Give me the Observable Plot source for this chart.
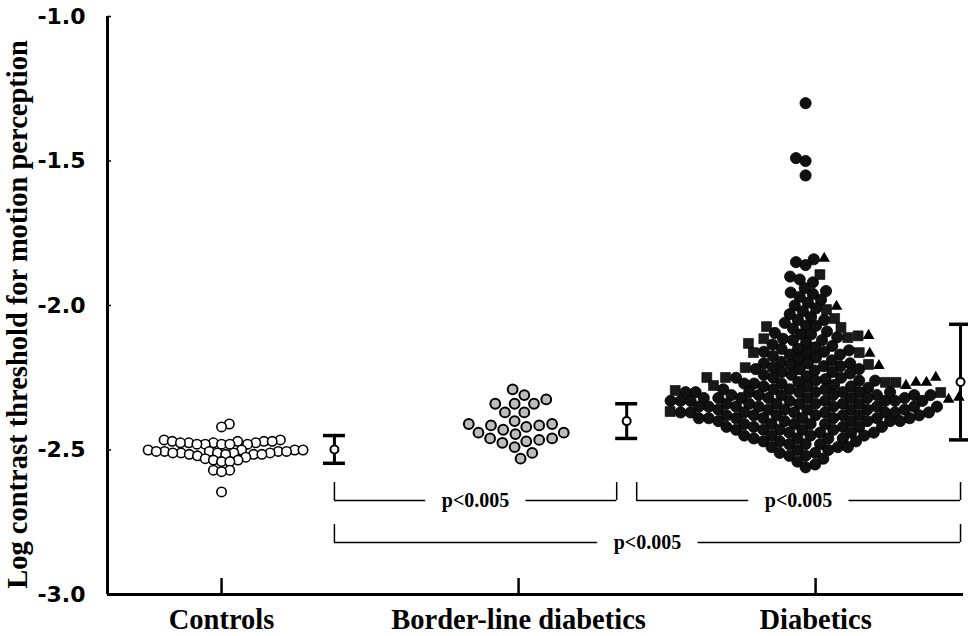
<!DOCTYPE html>
<html><head><meta charset="utf-8">
<script src="https://cdn.jsdelivr.net/npm/d3@7"></script>
<script src="https://cdn.jsdelivr.net/npm/@observablehq/plot@0.6"></script>
<style>
html,body{margin:0;padding:0;background:#fff;}
#chart svg{display:block;}
</style></head><body><div id="chart"></div>
<script>
// ---------------- data ----------------
const categories = ["Controls", "Border-line diabetics", "Diabetics"];
const yTicks = [-3.0, -2.5, -2.0, -1.5, -1.0];
const yTitle = "Log contrast threshold for motion perception";

const controls = [
  -2.41, -2.42,
  -2.465, -2.465, -2.47, -2.47, -2.47, -2.47, -2.475, -2.475, -2.475, -2.475,
  -2.48, -2.48, -2.48, -2.48, -2.48,
  -2.50, -2.50, -2.50, -2.50, -2.505, -2.505, -2.505, -2.505, -2.505,
  -2.51, -2.51, -2.51, -2.51, -2.51, -2.515, -2.515, -2.515, -2.515,
  -2.52, -2.525, -2.53, -2.535, -2.535, -2.54, -2.54,
  -2.57, -2.57, -2.575,
  -2.645
];

const borderline = [
  -2.29, -2.31, -2.325,
  -2.34, -2.34, -2.34,
  -2.37, -2.37,
  -2.40, -2.41, -2.41,
  -2.415, -2.415, -2.42,
  -2.43, -2.44, -2.44, -2.445,
  -2.46, -2.46, -2.465, -2.47,
  -2.475, -2.49, -2.51, -2.53
];

const diabeticsCircles = [
  -1.30, -1.49, -1.50, -1.55,
  -1.84, -1.85, -1.86,
  -1.90, -1.91, -1.92,
  -1.94, -1.95, -1.955, -1.96, -1.97, -1.98,
  -1.99, -2.00, -2.01, -2.02, -2.03,
  -2.04, -2.05, -2.05, -2.06, -2.07, -2.07, -2.08, -2.09,
  -2.095, -2.10, -2.10, -2.11, -2.115, -2.12, -2.12, -2.13, -2.135, -2.14,
  -2.145, -2.15, -2.15, -2.155, -2.16, -2.16, -2.165, -2.17, -2.17, -2.175, -2.18, -2.185, -2.19,
  -2.195, -2.20, -2.20, -2.20, -2.205, -2.21, -2.21, -2.215, -2.22, -2.22, -2.22, -2.225, -2.23, -2.23, -2.235, -2.24, -2.24,
  -2.245, -2.25, -2.25, -2.25, -2.255, -2.26, -2.26, -2.26, -2.265, -2.27, -2.27, -2.27, -2.275,
  -2.28, -2.28, -2.28, -2.285, -2.29, -2.29, -2.29, -2.29,
  -2.30, -2.30, -2.30, -2.30, -2.30, -2.30, -2.30, -2.30,
  -2.31, -2.31, -2.31, -2.31, -2.31, -2.31, -2.31,
  -2.32, -2.32, -2.32, -2.32, -2.32, -2.32, -2.32, -2.32,
  -2.33, -2.33, -2.33, -2.33, -2.33, -2.33, -2.33, -2.33,
  -2.34, -2.34, -2.34, -2.34, -2.34, -2.34, -2.34,
  -2.35, -2.35, -2.35, -2.35, -2.35, -2.35, -2.35, -2.35,
  -2.36, -2.36, -2.36, -2.36, -2.36, -2.36, -2.36,
  -2.37, -2.37, -2.37, -2.37, -2.37, -2.37, -2.37, -2.37,
  -2.38, -2.38, -2.38, -2.38, -2.38, -2.38, -2.38,
  -2.39, -2.39, -2.39, -2.39, -2.39, -2.39, -2.39, -2.39,
  -2.40, -2.40, -2.40, -2.40, -2.40, -2.40,
  -2.41, -2.41, -2.41, -2.41, -2.41,
  -2.42, -2.42, -2.42, -2.42, -2.42,
  -2.43, -2.43, -2.43, -2.43, -2.43,
  -2.44, -2.44, -2.44, -2.44,
  -2.45, -2.45, -2.45, -2.45, -2.46, -2.46, -2.46, -2.46,
  -2.47, -2.47, -2.47, -2.48, -2.48, -2.48, -2.49, -2.49, -2.49,
  -2.50, -2.50, -2.51, -2.51, -2.52, -2.52, -2.53, -2.54, -2.55, -2.56
];

const diabeticsSquares = [
  -1.893, -2.014, -2.045, -2.073, -2.076, -2.105, -2.111, -2.115, -2.131,
  -2.163, -2.163, -2.204, -2.215, -2.249, -2.249, -2.266, -2.266, -2.277,
  -2.294, -2.301, -2.367
];

const diabeticsTriangles = [
  -1.837, -2.003, -2.104, -2.166, -2.208, -2.249, -2.266, -2.266, -2.277, -2.318, -2.325
];

const groupMeans = [-2.498, -2.40, -2.265];
const groupSDs = [0.048, 0.06, 0.20];

const comparisonFrom = [0, 1, 0];
const comparisonTo = [1, 2, 2];
const comparisonLabels = ["p<0.005", "p<0.005", "p<0.005"];

// ---------------- layout ----------------
const W = 968, H = 636;
const M = {top: 16, right: 5, bottom: 42, left: 107};
const xDomain = [-0.384, 2.498];
const yDomain = [-3, -1];
const kx = (W - M.left - M.right) / (xDomain[1] - xDomain[0]);
const ky = (H - M.top - M.bottom) / (yDomain[1] - yDomain[0]);
const summaryOffset = [0.38, 0.364, 0.488];
const swarmShiftPx = [0, 2, -10];
const bracketLevel = [-2.675, -2.675, -2.82];
const bracketGap = 10 / kx;

// greedy beeswarm (pixel space), returns x offsets in px; side: 0 both, 1 right only, -1 left only
function swarm(values, D, placed, side = 0) {
  const idx = values.map((_, i) => i).sort((a, b) => values[a] - values[b]);
  const offs = new Array(values.length);
  let flip = 1;
  for (const i of idx) {
    const py = values[i] * ky;
    const near = placed.filter(p => Math.abs(p.py - py) < D);
    let cands = [0];
    for (const p of near) {
      const h = Math.sqrt(D * D - (p.py - py) ** 2);
      cands.push(p.px + h, p.px - h);
    }
    if (side) cands = cands.filter(c => c * side >= 0);
    cands.sort((a, b) => (Math.abs(a) - Math.abs(b)) || flip * (a - b));
    let best = 0;
    for (const c of cands) {
      if (near.every(p => (p.px - c) ** 2 + (p.py - py) ** 2 >= D * D - 1e-6)) { best = c; break; }
    }
    flip = -flip;
    placed.push({px: best, py});
    offs[i] = best;
  }
  return offs;
}

function toPoints(values, group, offs) {
  return values.map((v, i) => ({x: group + (offs[i] + swarmShiftPx[group]) / kx, y: v}));
}

const ctrlPts = toPoints(controls, 0, swarm(controls, 8.3, []));
const bordPts = toPoints(borderline, 1, swarm(borderline, 13, []));
const diabPlaced = [];
const circPts = toPoints(diabeticsCircles, 2, swarm(diabeticsCircles, 10, diabPlaced));
const sqPts = toPoints(diabeticsSquares, 2, swarm(diabeticsSquares, 10.5, diabPlaced));
const triPts = toPoints(diabeticsTriangles, 2, swarm(diabeticsTriangles, 10.5, diabPlaced, 1));

const summary = categories.map((c, i) => ({
  x: i + summaryOffset[i], mean: groupMeans[i], lo: groupMeans[i] - groupSDs[i], hi: groupMeans[i] + groupSDs[i]
}));
const caps = summary.flatMap(s => [{x: s.x, y: s.lo}, {x: s.x, y: s.hi}]);

const brackets = comparisonLabels.map((label, i) => {
  const f = comparisonFrom[i], t = comparisonTo[i];
  const x1 = f + summaryOffset[f] + (f > 0 ? bracketGap : 0);
  const x2 = t + summaryOffset[t] - (t < categories.length - 1 ? bracketGap : 0);
  return {x1, x2, xm: (x1 + x2) / 2, level: bracketLevel[i], label};
});
const bracketEnds = brackets.flatMap(b => [{x: b.x1, level: b.level}, {x: b.x2, level: b.level}]);

const serif = "'Liberation Serif', 'Times New Roman', serif";
const sans = "'DejaVu Sans', Arial, Helvetica, sans-serif";

const chart = Plot.plot({
  width: W, height: H,
  marginTop: M.top, marginRight: M.right, marginBottom: M.bottom, marginLeft: M.left,
  x: {type: "linear", domain: xDomain},
  y: {type: "linear", domain: yDomain},
  style: {background: "white", color: "black", overflow: "visible"},
  marks: [
    // axes
    Plot.axisY({ticks: yTicks, tickFormat: d => d.toFixed(1), tickSize: 0, tickPadding: 22,
      fontSize: 22, fontFamily: sans, fontWeight: "bold", label: null}),
    Plot.axisX({ticks: categories.map((c, i) => i), tickFormat: i => categories[i], tickSize: 0, tickPadding: 14,
      fontSize: 28.5, fontFamily: serif, fontWeight: "bold", label: null}),
    Plot.ruleX([xDomain[0]], {x: d => d, strokeWidth: 3}),
    Plot.ruleY([yDomain[0]], {y: d => d, strokeWidth: 3}),
    Plot.ruleX(categories.map((c, i) => i), {x: d => d, y1: () => yDomain[0], y2: () => yDomain[0], insetBottom: 16, strokeWidth: 2.5}),
    Plot.ruleY(yTicks, {y: d => d, x1: () => xDomain[0], x2: () => xDomain[0], insetRight: -4, strokeWidth: 1.5}),
    Plot.text([yTitle], {text: d => d, frameAnchor: "left", textAnchor: "middle", lineAnchor: "middle",
      dx: -90, dy: 9, rotate: -90,
      fontSize: 28.5, fontFamily: serif, fontWeight: "bold", fill: "black"}),

    // dots
    Plot.dot(ctrlPts, {x: "x", y: "y", r: 4.7, fill: "white", stroke: "black", strokeWidth: 1.6}),
    Plot.dot(bordPts, {x: "x", y: "y", r: 4.9, fill: "#bcbcbc", stroke: "black", strokeWidth: 2}),
    Plot.dot(circPts, {x: "x", y: "y", r: 5.6, fill: "#111", stroke: "#000", strokeWidth: 0.8}),
    Plot.dot(sqPts, {x: "x", y: "y", r: 5.6, symbol: "square", fill: "#1a1a1a", stroke: "#000", strokeWidth: 0.6}),
    Plot.dot(triPts, {x: "x", y: "y", r: 4.3, symbol: "triangle", fill: "#000"}),

    // error bars
    Plot.ruleX(summary, {x: "x", y1: "lo", y2: "hi", strokeWidth: 3}),
    Plot.ruleY(caps, {y: "y", x1: "x", x2: "x", insetLeft: -11, insetRight: -11, strokeWidth: 3.5}),
    Plot.dot(summary, {x: "x", y: "mean", r: 4, fill: "white", stroke: "black", strokeWidth: 2}),

    // significance brackets
    Plot.ruleY(brackets, {y: "level", x1: "x1", x2: "x2", strokeWidth: 1.5}),
    Plot.ruleX(bracketEnds, {x: "x", y1: "level", y2: "level", insetBottom: 18, strokeWidth: 1.5}),
    Plot.text(brackets, {x: "xm", y: "level", text: "label", fontSize: 20, fontFamily: serif, fontWeight: "bold",
      fill: "black", stroke: "white", strokeWidth: 34, strokeLinejoin: "round"})
  ]
});
document.getElementById("chart").appendChild(chart);
</script>
</body></html>
